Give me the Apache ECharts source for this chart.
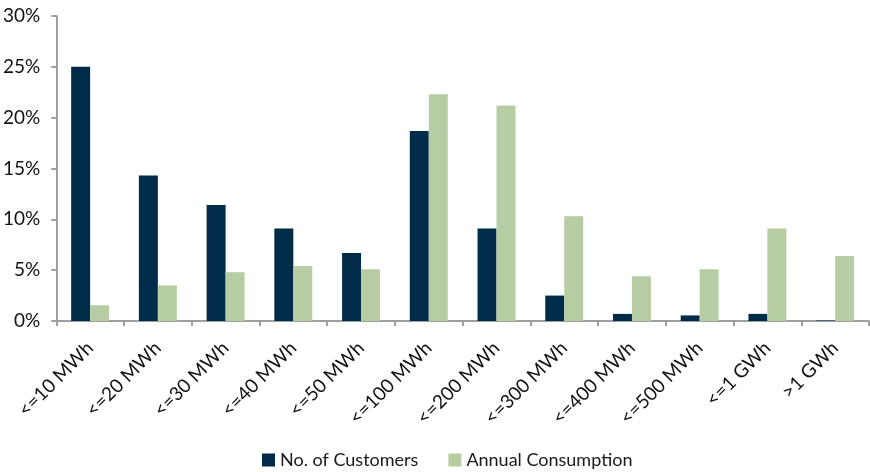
<!DOCTYPE html>
<html>
<head>
<meta charset="utf-8">
<script src="https://cdn.jsdelivr.net/npm/echarts@6/dist/echarts.min.js"></script>
<style>html,body{margin:0;padding:0;background:#fff;}#c{width:870px;height:472px;}</style>
</head>
<body>
<div id="c"></div>
<script>
const categories = ['<=10 MWh','<=20 MWh','<=30 MWh','<=40 MWh','<=50 MWh','<=100 MWh','<=200 MWh','<=300 MWh','<=400 MWh','<=500 MWh','<=1 GWh','>1 GWh'];
const customers = [25.0, 14.3, 11.4, 9.1, 6.7, 18.7, 9.1, 2.5, 0.7, 0.55, 0.7, 0.05];
const consumption = [1.55, 3.5, 4.8, 5.4, 5.1, 22.3, 21.2, 10.3, 4.4, 5.1, 9.1, 6.4];
const yTicks = [0, 5, 10, 15, 20, 25, 30];

const font = 'Lato, "Open Sans", sans-serif';
const chart = echarts.init(document.getElementById('c'), null, {renderer: 'canvas'});
chart.setOption({
  animation: false,
  backgroundColor: '#fff',
  grid: {left: 56, right: 1, top: 16, bottom: 151, containLabel: false},
  legend: {
    top: 451, left: 262, itemWidth: 13, itemHeight: 13, itemGap: 30,
    icon: 'rect', padding: 0,
    textStyle: {fontFamily: font, fontSize: 18, color: '#1a1a1a'},
    data: ['No. of Customers', 'Annual Consumption']
  },
  xAxis: {
    type: 'category', data: categories,
    axisLine: {lineStyle: {color: '#a0a0a0', width: 2}},
    axisTick: {show: true, length: 5, lineStyle: {color: '#a0a0a0', width: 2}},
    axisLabel: {rotate: 45, margin: 24, fontFamily: font, fontSize: 19, color: '#111', interval: 0}
  },
  yAxis: {
    type: 'value', min: yTicks[0], max: yTicks[yTicks.length - 1], interval: 5,
    splitLine: {show: false},
    axisLine: {show: true, lineStyle: {color: '#a0a0a0', width: 2}},
    axisTick: {show: true, length: 5, lineStyle: {color: '#a0a0a0', width: 2}},
    axisLabel: {formatter: '{value}%', margin: 16, fontFamily: font, fontSize: 19, color: '#111'}
  },
  series: [
    {name: 'No. of Customers', type: 'bar', data: customers, barWidth: '28%', barGap: '0%',
     itemStyle: {color: '#002B49'}},
    {name: 'Annual Consumption', type: 'bar', data: consumption, barWidth: '28%', barGap: '0%',
     itemStyle: {color: '#B6CDA3'}}
  ]
});
</script>
</body>
</html>
